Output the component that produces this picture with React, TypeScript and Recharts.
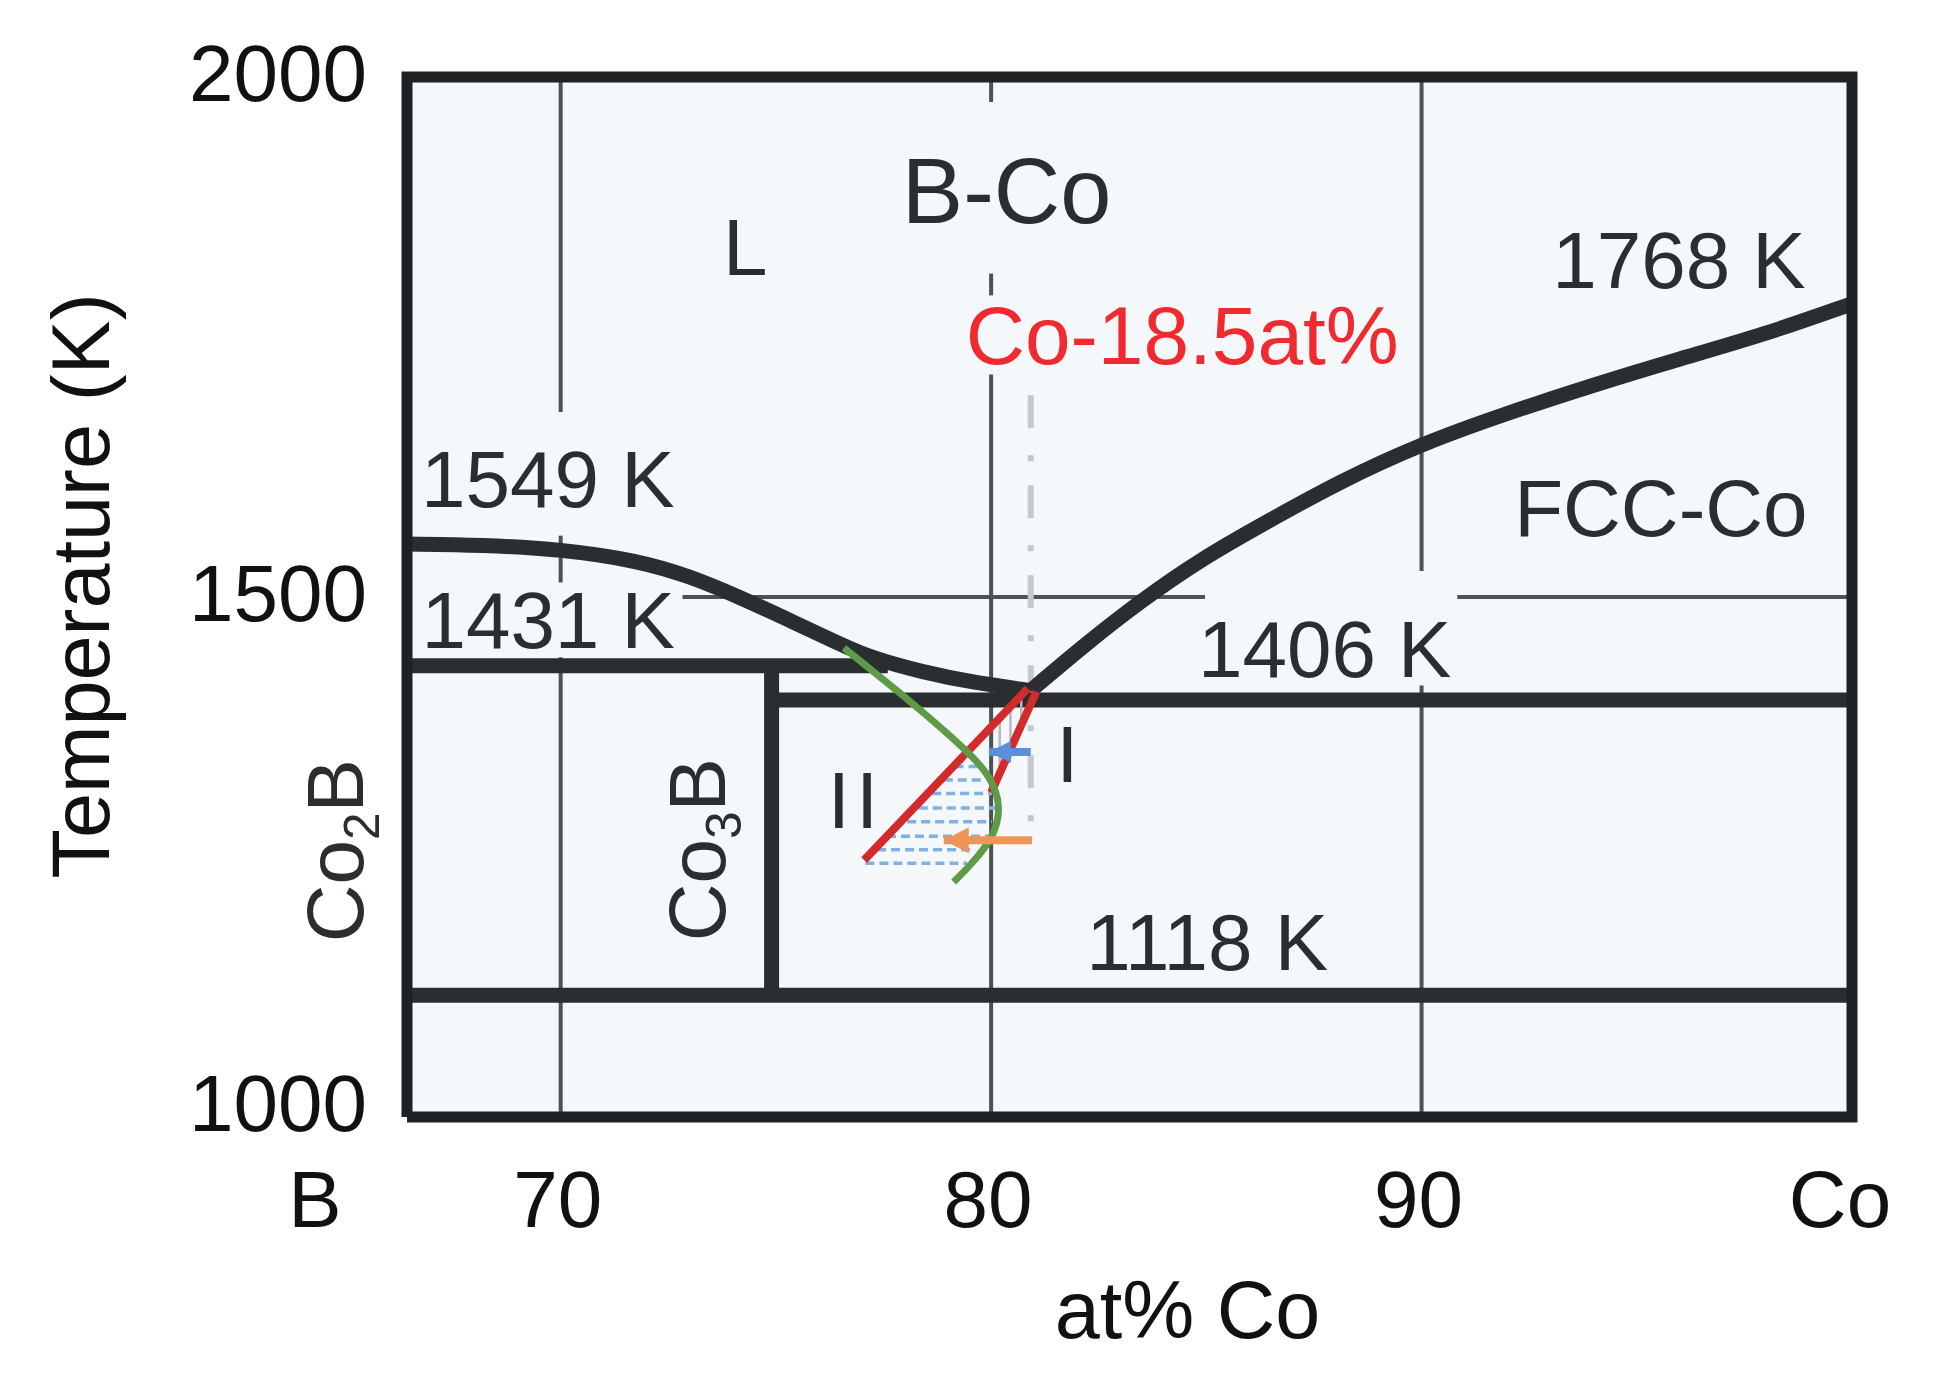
import React from "react";
import { ComposedChart, CartesianGrid, XAxis, YAxis, Line, Scatter } from "recharts";

type Pt = { x: number; y: number };

const FONT = "'Liberation Sans', Arial, sans-serif";
const INK = "#2b2e31";
const BG = "#f4f8fb";

// composition window, left edge sits on Co2B
const xMin = 66.43;
const xMax = 100;

const xTicks = [xMin, 70, 80, 90, xMax];
const xTickLabels = ["B", "70", "80", "90", "Co"];
const yTicks = [1000, 1500, 2000];

// isotherms / phase lines
const tPeritectic = 1434;
const tEutectic = 1401;
const tLow = 1117;
const xCo3B = 74.9;
const xPeritecticEnd = 77.6;
const xEutectic = 80.92;

const liquidusLeft: Pt[] = [
  { x: 66.43, y: 1551 }, { x: 68.2, y: 1550 }, { x: 70.0, y: 1546 }, { x: 71.8, y: 1535 },
  { x: 73.0, y: 1520 }, { x: 74.15, y: 1500 }, { x: 75.3, y: 1478 }, { x: 76.47, y: 1455 },
  { x: 77.24, y: 1441 }, { x: 78.39, y: 1428 }, { x: 79.55, y: 1418 }, { x: 80.92, y: 1410 },
];

const liquidusRight: Pt[] = [
  { x: 80.92, y: 1410 }, { x: 82.2, y: 1455 }, { x: 83.5, y: 1497 }, { x: 84.9, y: 1537 },
  { x: 86.35, y: 1571 }, { x: 88.1, y: 1611 }, { x: 89.98, y: 1647 }, { x: 92.0, y: 1677 },
  { x: 94.08, y: 1705 }, { x: 96.0, y: 1729 }, { x: 97.94, y: 1752 }, { x: 100, y: 1782 },
];

const redA: Pt[] = [{ x: 77.05, y: 1247 }, { x: 80.85, y: 1412 }];
const redB: Pt[] = [{ x: 80.0, y: 1312 }, { x: 81.05, y: 1409 }];

const greenCurve: Pt[] = [
  { x: 76.58, y: 1451 }, { x: 78.16, y: 1398 }, { x: 79.32, y: 1356 }, { x: 79.94, y: 1327 },
  { x: 80.17, y: 1298 }, { x: 80.0, y: 1269 }, { x: 79.55, y: 1244 }, { x: 79.13, y: 1226 },
];

// blue dashed tie lines in region II
const hatchII = [
  { t: 1337, x1: 79.15, x2: 79.71 }, { t: 1324, x1: 78.9, x2: 79.87 },
  { t: 1311, x1: 78.63, x2: 80.02 }, { t: 1297, x1: 78.32, x2: 80.1 },
  { t: 1284, x1: 78.05, x2: 80.02 }, { t: 1270, x1: 77.58, x2: 79.94 },
  { t: 1257, x1: 77.35, x2: 79.63 }, { t: 1244, x1: 77.08, x2: 79.44 },
];

// grey strokes in region I
const hatchI = [
  { x: 80.2, t1: 1331, t2: 1384 }, { x: 80.45, t1: 1354, t2: 1395 }, { x: 80.7, t1: 1377, t2: 1405 },
];

const blueArrow: Pt[] = [{ x: 80.92, y: 1351 }, { x: 79.95, y: 1351 }];
const orangeArrow: Pt[] = [{ x: 80.95, y: 1266 }, { x: 78.9, y: 1266 }];

const gridCols = [
  { x: 70, gaps: [[1442, 1514], [1559, 1678]] },
  { x: 80, gaps: [[1714, 1790], [1811, 1976]] },
  { x: 90, gaps: [[1415, 1525]] },
];
const gridRows = [{ y: 1500, gaps: [[xMin, 72.83], [84.97, 90.83]] }];

const labels = [
  { x: 80.36, y: 1891, text: "B-Co" },
  { x: 74.29, y: 1837, text: "L" },
  { x: 84.44, y: 1752, text: "Co-18.5at%" },
  { x: 95.98, y: 1824, text: "1768 K" },
  { x: 69.7, y: 1613, text: "1549 K" },
  { x: 69.71, y: 1478, text: "1431 K" },
  { x: 95.56, y: 1586, text: "FCC-Co" },
  { x: 87.75, y: 1450, text: "1406 K" },
  { x: 85.02, y: 1168, text: "1118 K" },
  { x: 81.77, y: 1349, text: "I" },
  { x: 76.86, y: 1305, text: "II" },
  { x: 73.17, y: 1257, text: "Co3B" },
  { x: 66.43, y: 1256, text: "Co2B" },
];

const labelStyle: Record<string, { size?: number; color?: string; rotate?: boolean; dx?: number; sub?: string; spacing?: number }> = {
  "B-Co": { size: 92 },
  "Co-18.5at%": { size: 82, color: "#f02a2e" },
  II: { spacing: 6 },
  Co3B: { rotate: true, sub: "3" },
  Co2B: { rotate: true, sub: "2", dx: -72 },
};

function split(lo: number, hi: number, gaps: number[][]) {
  const out: number[][] = [];
  let start = lo;
  gaps.forEach(([a, b]) => {
    if (a > start) out.push([start, a]);
    start = b;
  });
  if (start < hi) out.push([start, hi]);
  return out;
}

const gridSegments: Pt[][] = [
  ...gridCols.flatMap((c) => split(1000, 2000, c.gaps).map(([a, b]) => [{ x: c.x, y: a }, { x: c.x, y: b }])),
  ...gridRows.flatMap((r) => split(xMin, xMax, r.gaps).map(([a, b]) => [{ x: a, y: r.y }, { x: b, y: r.y }])),
];

const isotherms: Pt[][] = [
  [{ x: xMin, y: tPeritectic }, { x: xPeritecticEnd, y: tPeritectic }],
  [{ x: xCo3B, y: tEutectic }, { x: xMax, y: tEutectic }],
  [{ x: xMin, y: tLow }, { x: xMax, y: tLow }],
  [{ x: xCo3B, y: tLow }, { x: xCo3B, y: tPeritectic }],
];

const frame: Pt[] = [
  { x: xMin, y: 1000 }, { x: xMin, y: 2000 }, { x: xMax, y: 2000 }, { x: xMax, y: 1000 }, { x: xMin, y: 1000 },
];

const base = { dataKey: "y", dot: false, activeDot: false, isAnimationActive: false, legendType: "none" as const, type: "linear" as const };

const arrowHead = (color: string, len: number, half: number) => (p: any) => {
  if (p.index !== 1) return <g key={`n${p.index}`} />;
  return (
    <polygon key="head" points={`${p.cx},${p.cy} ${p.cx + len},${p.cy - half} ${p.cx + len},${p.cy + half}`} fill={color} />
  );
};

const XTick = (p: any) => {
  const v = p.payload.value;
  const i = xTicks.indexOf(v);
  const shift = v === xMin ? -92 : v === xMax ? -12 : -3;
  return (
    <text x={p.x + shift} y={p.y + 110} textAnchor="middle" fontSize={80} fill="#111" fontFamily={FONT}>
      {xTickLabels[i]}
    </text>
  );
};

const YTick = (p: any) => (
  <text x={p.x - 40} y={p.y + (p.payload.value === 1000 ? -14 : -4)} dy="0.355em" textAnchor="end" fontSize={80} fill="#111" fontFamily={FONT}>
    {p.payload.value}
  </text>
);

const XTitle = (p: any) => {
  const { x, y, width } = p.viewBox;
  return (
    <text x={x + width / 2 + 58} y={y + 221} textAnchor="middle" fontSize={81} fill="#111" fontFamily={FONT}>
      at% Co
    </text>
  );
};

const YTitle = (p: any) => {
  const { x, y, width, height } = p.viewBox;
  const cx = x + width - 326;
  const cy = y + height / 2 - 11;
  return (
    <text x={cx} y={cy} dy="0.35em" textAnchor="middle" fontSize={81} fill="#111" fontFamily={FONT} transform={`rotate(-90 ${cx} ${cy})`}>
      Temperature (K)
    </text>
  );
};

const Annotation = (p: any) => {
  const text: string = p.payload.text;
  const st = labelStyle[text] || {};
  const size = st.size || 80;
  const x = p.cx + (st.dx || 0);
  const y = p.cy;
  const tf = st.rotate ? `rotate(-90 ${x} ${y})` : undefined;
  const common = {
    x, y, textAnchor: "middle" as const, fontSize: size, fill: st.color || INK, fontFamily: FONT, transform: tf,
    letterSpacing: st.spacing,
  };
  if (st.sub) {
    const [head, tail] = text.split(st.sub);
    return (
      <text {...common} dy={size * 0.35}>
        {head}
        <tspan fontSize={size * 0.62} dy={size * 0.2}>{st.sub}</tspan>
        <tspan dy={-size * 0.2}>{tail}</tspan>
      </text>
    );
  }
  return (
    <text {...common} dy={size * 0.35}>
      {text}
    </text>
  );
};

export default function App() {
  return (
    <div style={{ position: "absolute", left: 0, top: 0, width: 1936, height: 1384, background: "#fff" }}>
      <ComposedChart width={1936} height={1384} margin={{ top: 77, right: 84, bottom: 117, left: 27 }}>
        <CartesianGrid horizontal={false} vertical={false} fill={BG} />
        <XAxis
          type="number"
          dataKey="x"
          domain={[xMin, xMax]}
          ticks={xTicks}
          interval={0}
          axisLine={false}
          tickLine={false}
          tickSize={0}
          tickMargin={0}
          height={150}
          tick={<XTick />}
          label={{ content: XTitle }}
        />
        <YAxis
          type="number"
          dataKey="y"
          domain={[1000, 2000]}
          ticks={yTicks}
          interval={0}
          axisLine={false}
          tickLine={false}
          tickSize={0}
          tickMargin={0}
          width={380}
          tick={<YTick />}
          label={{ content: YTitle }}
        />

        {gridSegments.map((s, i) => (
          <Line key={`g${i}`} {...base} data={s} stroke="#4f5255" strokeWidth={4} />
        ))}

        <Line {...base} data={[{ x: xEutectic, y: 1694 }, { x: xEutectic, y: 1266 }]} stroke="#c6c9cc" strokeWidth={6} strokeDasharray="33 27 6 24" />

        {isotherms.map((s, i) => (
          <Line key={`iso${i}`} {...base} data={s} stroke={INK} strokeWidth={15} />
        ))}
        <Line {...base} type="basis" data={liquidusLeft} stroke={INK} strokeWidth={15} />
        <Line {...base} type="basis" data={liquidusRight} stroke={INK} strokeWidth={15} />

        {hatchII.map((h, i) => (
          <Line key={`h${i}`} {...base} data={[{ x: h.x1, y: h.t }, { x: h.x2, y: h.t }]} stroke="#7fb1e4" strokeWidth={3.5} strokeDasharray="9 5" />
        ))}
        {hatchI.map((h, i) => (
          <Line key={`hi${i}`} {...base} data={[{ x: h.x, y: h.t1 }, { x: h.x, y: h.t2 }]} stroke="#b4b8bc" strokeWidth={2.5} />
        ))}

        <Line {...base} data={redA} stroke="#d32a2c" strokeWidth={8} />
        <Line {...base} data={redB} stroke="#d32a2c" strokeWidth={8} />
        <Line {...base} type="natural" data={greenCurve} stroke="#5e9a47" strokeWidth={7} />

        <Line {...base} data={blueArrow} stroke="#5b8ed8" strokeWidth={8} dot={arrowHead("#5b8ed8", 22, 11)} />
        <Line {...base} data={orangeArrow} stroke="#ee9656" strokeWidth={8} dot={arrowHead("#ee9656", 25, 13)} />

        <Line {...base} data={frame} stroke="#1f2225" strokeWidth={11} strokeLinejoin="miter" />

        <Scatter data={labels} dataKey="y" isAnimationActive={false} legendType="none" shape={Annotation} />
      </ComposedChart>
    </div>
  );
}
